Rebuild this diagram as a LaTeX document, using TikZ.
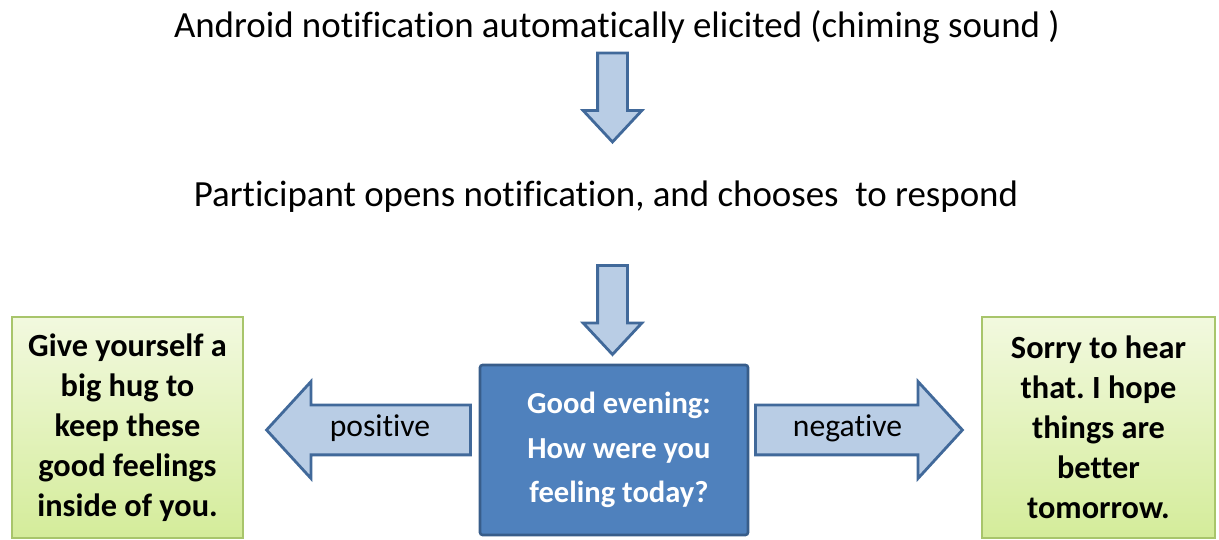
\documentclass[tikz,border=0pt]{standalone}
\usepackage{fontspec}
\setmainfont[Ligatures=NoCommon]{Carlito}
\usepackage{xcolor}
\usetikzlibrary{shapes.arrows}
\frenchspacing

\definecolor{arrowfill}{HTML}{B9CDE5}
\definecolor{arrowline}{HTML}{41699A}
\definecolor{qfill}{HTML}{4F81BD}
\definecolor{qline}{HTML}{385D8A}
\definecolor{greentop}{HTML}{F2F9DF}
\definecolor{greenbot}{HTML}{D4EC9A}
\definecolor{greenline}{HTML}{A8C56B}

\tikzset{
  steptext/.style={font=\fontsize{21}{24}\selectfont, inner sep=0pt},
  blockarrow/.style={single arrow, draw=arrowline, fill=arrowfill,
    line width=1.6pt, line join=miter},
  downarrow/.style={blockarrow, shape border rotate=270, inner sep=0.27cm,
    single arrow head extend=0.29cm, single arrow tip angle=86,
    minimum height=1.78cm},
  sidearrow/.style={blockarrow, font=\fontsize{18}{20}\selectfont,
    text height=0.35cm, text depth=0.1cm, inner xsep=0.2cm, inner ysep=0.245cm,
    single arrow head extend=0.47cm, single arrow tip angle=95},
  replybox/.style={draw=greenline, line width=0.6pt, top color=greentop,
    bottom color=greenbot, align=center, inner sep=0pt,
    font=\bfseries\fontsize{18.4}{22.7}\selectfont},
  askbox/.style={draw=qline, fill=qfill, line width=1.5pt, rounded corners=1.5pt,
    align=center, text=white, inner sep=0pt,
    font=\bfseries\fontsize{17.4}{25.5}\selectfont,
    minimum width=5.36cm, minimum height=3.4cm}
}

\begin{document}
\begin{tikzpicture}
  \useasboundingbox (0,0) rectangle (24.38,10.8);
  \path (12.34,10.26) node[steptext] (notif) {Android notification automatically elicited (chiming sound )}
    (12.12,6.86) node[steptext] (opens) {Participant opens notification, and chooses\ \ to respond}
    (12.28,1.8) node[askbox] (ask) {\hspace{0.2cm}Good\ evening:\\\hspace{0.2cm}How were you\\\hspace{0.2cm}feeling today?}
    (2.55,2.25) node[replybox, minimum width=4.62cm, minimum height=4.42cm] (hug)
      {Give yourself\ a\\big hug to\\keep these\\good\ feelings\\inside of you.}
    (21.97,2.25) node[replybox, minimum width=4.66cm, minimum height=4.42cm] (sorry)
      {Sorry to hear\\that. I hope\\things\ are\\better\\tomorrow.};
  % block arrows between the steps
  \path (12.25,9.01) node[downarrow] (arr1) {}
    (12.25,4.76) node[downarrow] (arr2) {}
    (7.60,2.2) node[sidearrow, shape border rotate=180, minimum height=4.08cm] (pos) {positive}
    (16.95,2.2) node[sidearrow, minimum height=4.14cm] (neg) {negative};
\end{tikzpicture}
\end{document}
